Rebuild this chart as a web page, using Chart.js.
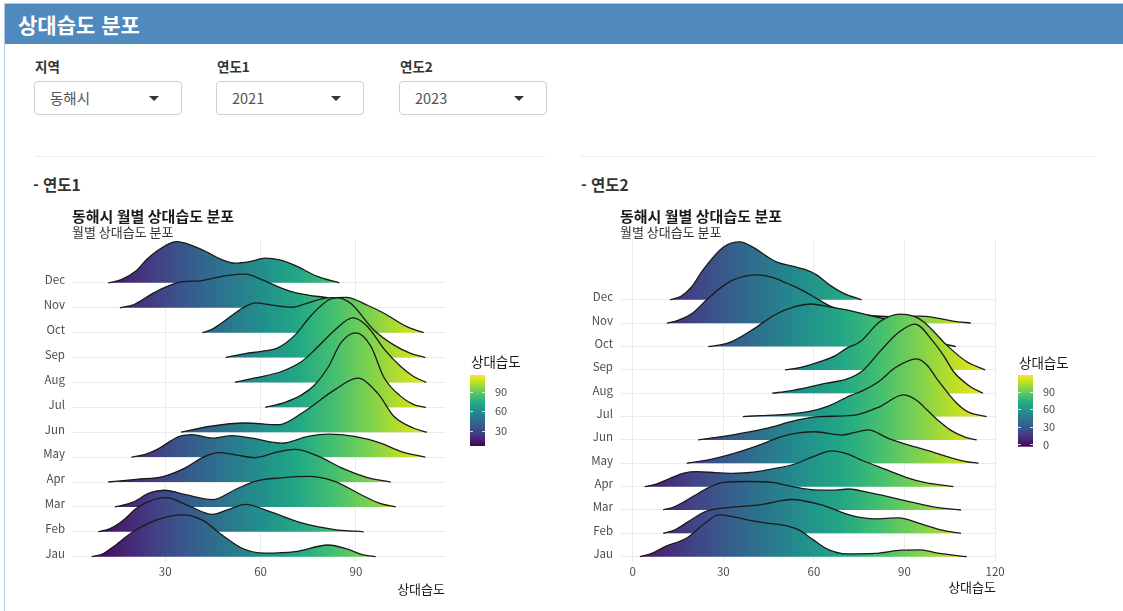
<!DOCTYPE html>
<html lang="ko">
<head>
<meta charset="utf-8">
<title>상대습도 분포</title>
<script src="https://cdn.jsdelivr.net/npm/chart.js"></script>
<style>
  body { margin: 0; background: #fff; font-family: 'Noto Sans CJK KR', 'Noto Sans', sans-serif; }
  #page { position: relative; width: 1123px; height: 611px; overflow: hidden; }
  .frame { position: absolute; left: 4px; top: 3px; width: 1140px; height: 640px; border: 1px solid #b3cbe3; }
  .head { position: absolute; left: 5px; top: 4px; width: 1118px; height: 40px; background: #5089be;
          color: #fff; font-weight: bold; font-size: 21px; line-height: 40px; padding-left: 13px; box-sizing: border-box; }
  .lbl { position: absolute; top: 57px; font-size: 13.5px; font-weight: bold; color: #333; line-height: 18px; }
  .sel { position: absolute; top: 81px; width: 148px; height: 34px; border: 1px solid #d0d0d0; border-radius: 4px;
         box-sizing: border-box; font-size: 14.5px; color: #555; line-height: 32px; padding-left: 15px; }
  .sel:after { content: ''; position: absolute; right: 22px; top: 14px; border-left: 5px solid transparent;
               border-right: 5px solid transparent; border-top: 5px solid #333; }
  .hr { position: absolute; top: 156px; height: 1px; background: #eee; }
  .sec { position: absolute; top: 173px; font-size: 15.5px; font-weight: bold; color: #333; line-height: 22px; }
  .plot { position: absolute; }
</style>
</head>
<body>
<div id="page">
  <div class="frame"></div>
  <div class="head">상대습도 분포</div>

  <div class="lbl" style="left:35px">지역</div>
  <div class="lbl" style="left:217px">연도1</div>
  <div class="lbl" style="left:400px">연도2</div>
  <div class="sel" style="left:34px">동해시</div>
  <div class="sel" style="left:216px">2021</div>
  <div class="sel" style="left:399px">2023</div>

  <div class="hr" style="left:35px;width:510px"></div>
  <div class="hr" style="left:580px;width:515px"></div>
  <div class="sec" style="left:33px">- 연도1</div>
  <div class="sec" style="left:581px">- 연도2</div>

  <div class="plot" style="left:30px;top:200px"><canvas id="chart1" width="520" height="400"></canvas></div>
  <div class="plot" style="left:575px;top:200px"><canvas id="chart2" width="548" height="400"></canvas></div>
</div>

<script>
    const FONT = "'Noto Sans CJK KR', 'Noto Sans', sans-serif";
    Chart.defaults.font.family = FONT;

    const months = ['Jau', 'Feb', 'Mar', 'Apr', 'May', 'Jun', 'Jul', 'Aug', 'Sep', 'Oct', 'Nov', 'Dec'];

    // ridge outlines, [상대습도, ridge height in rows]
    const jau2021 = [[6.9,0],[10.6,0.13],[13.7,0.40],[19.9,1.00],[27.2,1.47],[35.5,1.68],[41.7,1.47],[47.9,0.87],[54.2,0.34],[61.5,0.14],[70.8,0.20],[81.2,0.47],[87.4,0.30],[92,0.08],[96.2,0]];
    const feb2021 = [[9,0],[12.5,0.12],[15.8,0.36],[22,1.03],[30.3,1.37],[37.6,1.03],[44.8,0.70],[50,0.90],[55.2,1.10],[62.5,0.83],[72.9,0.36],[83.3,0.09],[92.4,0]];
    const mar2021 = [[14.2,0],[19.9,0.19],[25.1,0.56],[29.8,0.67],[36.5,0.49],[44.8,0.29],[52.1,0.70],[58.3,1.03],[66.6,1.17],[75,1.23],[83.3,1.03],[91.6,0.49],[97.8,0.13],[102.5,0]];
    const apr2021 = [[12.1,0],[21,0.11],[29.3,0.22],[36.5,0.58],[41.7,0.98],[46.9,1.18],[52.1,1.09],[58.3,0.98],[64.6,1.18],[70.8,1.31],[78.1,1.04],[85.3,0.58],[93.6,0.18],[100.9,0]];
    const may2021 = [[19.4,0],[23.5,0.10],[27.2,0.29],[34.5,0.83],[38.6,0.90],[44.8,0.76],[51.1,0.86],[57.3,0.76],[66.6,0.56],[75,0.83],[81.2,0.92],[89.5,0.83],[97.8,0.56],[104,0.23],[111.8,0]];
    const jun2021 = [[35,0],[43.8,0.23],[55.2,0.37],[65.6,0.30],[72.9,0.76],[83.3,1.70],[90.5,2.17],[96.8,1.57],[102,0.63],[108.2,0.16],[112.3,0]];
    const jul2021 = [[61.5,0],[67.7,0.20],[72.9,0.50],[77,0.90],[81.2,1.60],[85.3,2.60],[90,2.99],[94.7,2.45],[98.8,1.20],[104,0.45],[108,0.12],[112,0]];
    const aug2021 = [[51.9,0],[58.3,0.18],[66.6,0.44],[72.9,0.84],[77,1.30],[83.3,2.10],[89,2.59],[93.6,2.25],[98.8,1.35],[104,0.65],[108,0.25],[112.1,0]];
    const sep2021 = [[49,0],[55.2,0.16],[60.4,0.25],[65.6,0.40],[70.8,0.90],[76,1.70],[81.2,2.30],[84.3,2.40],[88.4,2.17],[95.7,1.10],[102,0.50],[107,0.18],[111.8,0]];
    const oct2021 = [[41.7,0],[44.5,0.12],[47.9,0.40],[51.1,0.70],[54.5,1.00],[58.5,1.20],[63.5,1.11],[69.8,1.02],[75,1.20],[81,1.40],[87,1.42],[93.6,1.10],[98.8,0.78],[106,0.24],[111.3,0]];
    const nov2021 = [[15.8,0],[20,0.12],[26.1,0.58],[30.5,0.85],[35.5,1.05],[41,1.08],[44.8,1.18],[50,1.30],[55.2,1.35],[60,1.15],[65.6,0.84],[70,0.64],[74.9,0.51],[82.2,0.38],[87,0.22],[93.6,0]];
    const dec2021 = [[12.1,0],[16,0.12],[21,0.50],[24.1,0.93],[27.2,1.26],[33.5,1.66],[42.8,1.26],[47.5,0.95],[52.1,0.79],[56.5,0.85],[61.5,0.99],[66,0.92],[70.8,0.70],[78.1,0.25],[84.8,0]];

    const jau2023 = [[2.4,0],[6.5,0.15],[10.7,0.43],[17.9,0.80],[23.9,1.43],[28.5,1.79],[33,1.72],[38.3,1.57],[43.8,1.45],[51.6,1.30],[55,1.15],[59.8,0.72],[64.8,0.30],[70.9,0.12],[80.2,0.14],[89.1,0.28],[95.2,0.29],[101,0.15],[110.6,0]];
    const feb2023 = [[10.1,0],[14,0.15],[18.4,0.50],[24.5,0.95],[33.3,1.12],[42.2,1.22],[52.6,1.45],[63.5,1.18],[72,0.78],[80.2,0.62],[88,0.66],[96,0.38],[102,0.15],[108.7,0]];
    const mar2023 = [[10.1,0],[14,0.15],[20.5,0.62],[25,0.95],[30,1.18],[38.3,1.22],[46,1.18],[53,1.00],[60,0.86],[66,0.85],[71.5,0.90],[78,0.75],[84.5,0.57],[93.5,0.30],[100,0.12],[108.7,0]];
    const apr2023 = [[4,0],[8,0.12],[12.4,0.36],[17,0.58],[21.2,0.64],[27.5,0.60],[33,0.57],[40,0.62],[46,0.75],[54,0.98],[60,1.30],[66,1.53],[71,1.40],[76,1.12],[84.6,0.70],[91,0.38],[97,0.17],[106.2,0]];
    const may2023 = [[17.9,0],[22,0.08],[27.3,0.21],[33,0.40],[40.5,0.71],[49.3,1.14],[55,1.30],[60.4,1.35],[69.2,1.21],[73,1.30],[78,1.43],[84.6,1.07],[93.5,0.70],[100.1,0.45],[105,0.25],[110,0.08],[114.5,0]];
    const jun2023 = [[21.7,0],[27,0.10],[32.8,0.21],[43.8,0.48],[54.8,0.86],[62,1.00],[73,1.05],[81.9,1.43],[89.6,1.93],[94,1.70],[97.4,1.29],[101.5,0.80],[105.1,0.43],[110,0.12],[113.9,0]];
    const jul2023 = [[36.5,0],[42,0.04],[49.3,0.08],[58.1,0.21],[64.8,0.45],[72,0.90],[76,1.10],[81.5,1.50],[87,2.10],[94,2.47],[97.5,2.20],[100.6,1.64],[107.3,0.57],[111,0.20],[117.2,0]];
    const aug2023 = [[46.2,0],[52,0.10],[58,0.25],[64.2,0.43],[70.8,0.60],[76,0.95],[81.9,1.79],[88,2.60],[93.5,2.96],[99.5,2.21],[103,1.60],[106.2,0.93],[111.7,0.29],[116,0]];
    const sep2023 = [[50.4,0],[56,0.12],[62,0.35],[67,0.60],[70.9,0.93],[75.3,1.20],[81.9,2.07],[88.5,2.39],[93,2.30],[96.2,2.07],[100,1.60],[103.9,1.07],[110.5,0.36],[116.7,0]];
    const oct2023 = [[25,0],[29,0.07],[32.8,0.21],[40.5,0.79],[47.1,1.36],[53.7,1.71],[59,1.82],[64.8,1.71],[70.9,1.57],[79.7,1.29],[88,1.00],[95,0.50],[101,0.18],[107,0]];
    const nov2023 = [[11.3,0],[15,0.12],[19.5,0.40],[24.5,1.00],[29,1.50],[33.3,1.85],[41,2.07],[47,1.93],[51,1.71],[55.5,1.45],[59.8,1.14],[66,0.70],[75,0.40],[85,0.28],[95,0.30],[100,0.24],[106,0.09],[112,0]];
    const dec2023 = [[12.4,0],[16,0.15],[19.5,0.55],[23.4,1.30],[30,2.25],[35.5,2.48],[40.5,2.20],[44.4,1.86],[48,1.60],[53.2,1.43],[57,1.30],[60.9,1.07],[65,0.65],[69.7,0.29],[75.8,0]];

    const xTicks2021 = [30, 60, 90];
    const xTicks2023 = [0, 30, 60, 90, 120];
    const legendTicks2021 = [30, 60, 90];
    const legendTicks2023 = [0, 30, 60, 90];
    const fillRange2021 = [6.5, 115.7];   // colour scale limits
    const fillRange2023 = [-4, 118.6];

    const viridis = ['#440154', '#482475', '#414487', '#355f8d', '#2a788e', '#21918c',
                     '#22a884', '#44bf70', '#7ad151', '#bddf26', '#fde725'];

    function viridisGradient(ctx, x0, y0, x1, y1) {
        const g = ctx.createLinearGradient(x0, y0, x1, y1);
        viridis.forEach((c, i) => g.addColorStop(i / (viridis.length - 1), c));
        return g;
    }

    // ggplot-like colourbar legend
    const colorbarPlugin = {
        id: 'colorbar',
        afterDraw(chart, args, o) {
            const ctx = chart.ctx;
            const [lo, hi] = o.range;
            const yOf = v => o.bottom - (v - lo) / (hi - lo) * (o.bottom - o.top);
            ctx.save();
            ctx.fillStyle = viridisGradient(ctx, 0, o.bottom, 0, o.top);
            ctx.fillRect(o.left, o.top, o.width, o.bottom - o.top);
            ctx.strokeStyle = 'rgba(255,255,255,0.8)';
            ctx.lineWidth = 1;
            o.ticks.forEach(v => {
                const y = Math.round(yOf(v)) + 0.5;
                ctx.beginPath();
                ctx.moveTo(o.left, y); ctx.lineTo(o.left + 3, y);
                ctx.moveTo(o.left + o.width - 3, y); ctx.lineTo(o.left + o.width, y);
                ctx.stroke();
            });
            ctx.fillStyle = '#4d4d4d';
            ctx.font = '11px ' + FONT;
            ctx.textAlign = 'left';
            ctx.textBaseline = 'middle';
            o.ticks.forEach(v => ctx.fillText(String(v), o.left + o.width + 10, yOf(v)));
            ctx.fillStyle = '#1a1a1a';
            ctx.font = '13.5px ' + FONT;
            ctx.fillText(o.title, o.left + 1, o.titleY);
            ctx.restore();
        }
    };

    function drawRidges(canvasId, ridges, cfg) {
        const datasets = ridges.map((pts, i) => ({
            label: months[i],
            data: pts.map(([x, h]) => ({x: x, y: i + h})),
            fill: {value: i},
            borderColor: '#1a1a1a',
            borderWidth: 1.3,
            pointRadius: 0,
            cubicInterpolationMode: 'monotone',
            backgroundColor: (c) => {
                const chart = c.chart;
                if (!chart.chartArea || !chart.scales.x) return 'rgba(0,0,0,0)';
                const xs = chart.scales.x;
                return viridisGradient(chart.ctx, xs.getPixelForValue(cfg.fillRange[0]), 0,
                                                  xs.getPixelForValue(cfg.fillRange[1]), 0);
            }
        }));

        return new Chart(document.getElementById(canvasId), {
            type: 'line',
            data: {datasets: datasets},
            plugins: [colorbarPlugin],
            options: {
                responsive: false,
                animation: false,
                events: [],
                layout: {padding: {top: 8, right: cfg.padRight, bottom: 0, left: 0}},
                scales: {
                    x: {
                        type: 'linear',
                        min: cfg.xMin,
                        max: cfg.xMax,
                        afterBuildTicks: s => { s.ticks = cfg.xTicks.map(v => ({value: v})); },
                        afterFit: s => { s.height = 38; },
                        grid: {color: '#ebebeb', drawTicks: false},
                        border: {display: false},
                        ticks: {padding: 3, color: '#4d4d4d', font: {size: 11.5}, maxRotation: 0, autoSkip: false},
                        title: {display: true, text: '상대습도', align: 'end', color: '#1a1a1a',
                                font: {size: 13}, padding: {top: 0, bottom: cfg.titlePad}}
                    },
                    y: {
                        type: 'linear',
                        min: cfg.yMin,
                        max: cfg.yMax,
                        afterBuildTicks: s => { s.ticks = months.map((m, i) => ({value: i})); },
                        afterFit: s => { s.width = cfg.yWidth; },
                        grid: {color: '#ebebeb', drawTicks: false},
                        border: {display: false},
                        ticks: {padding: 7, labelOffset: -3, color: '#4d4d4d', font: {size: 11.5}, autoSkip: false,
                                callback: v => months[v]}
                    }
                },
                plugins: {
                    legend: {display: false},
                    tooltip: {enabled: false},
                    title: {display: true, text: '동해시 월별 상대습도 분포', align: 'start', fullSize: false,
                            color: '#1a1a1a', font: {size: 15, weight: 'bold', lineHeight: 1.1}, padding: {top: 0, bottom: 0}},
                    subtitle: {display: true, text: '월별 상대습도 분포', align: 'start', fullSize: false,
                               color: '#333', font: {size: 13, lineHeight: 1.1}, padding: {top: 0, bottom: 1}},
                    colorbar: cfg.colorbar
                }
            }
        });
    }

    drawRidges('chart1',
        [jau2021, feb2021, mar2021, apr2021, may2021, jun2021, jul2021, aug2021, sep2021, oct2021, nov2021, dec2021],
        {
            xMin: 0.7, xMax: 118, xTicks: xTicks2021,
            yMin: -0.213, yMax: 12.73, yWidth: 42, padRight: 105, titlePad: 3,
            fillRange: fillRange2021,
            colorbar: {range: fillRange2021, ticks: legendTicks2021, title: '상대습도',
                       left: 440, width: 15, top: 175, bottom: 246, titleY: 162}
        });

    drawRidges('chart2',
        [jau2023, feb2023, mar2023, apr2023, may2023, jun2023, jul2023, aug2023, sep2023, oct2023, nov2023, dec2023],
        {
            xMin: -4.2, xMax: 120.3, xTicks: xTicks2023,
            yMin: -0.227, yMax: 13.57, yWidth: 45, padRight: 127, titlePad: 5,
            fillRange: fillRange2023,
            colorbar: {range: fillRange2023, ticks: legendTicks2023, title: '상대습도',
                       left: 443, width: 15, top: 175, bottom: 246.7, titleY: 163}
        });
</script>
</body>
</html>
